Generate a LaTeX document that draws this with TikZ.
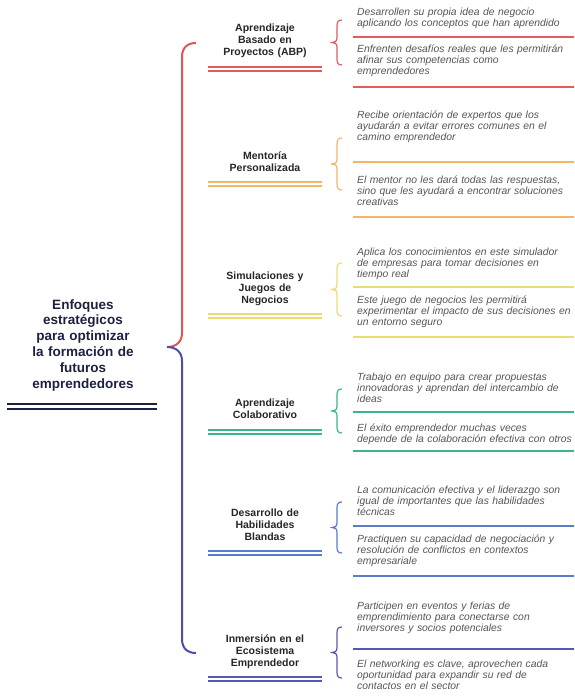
\documentclass[tikz,border=0pt]{standalone}
\usepackage{fontspec}
\setmainfont{Liberation Sans}
\definecolor{cred}{HTML}{E25C5C}
\definecolor{corange}{HTML}{F2B867}
\definecolor{cyellow}{HTML}{E9DC72}
\definecolor{cteal}{HTML}{3DB38F}
\definecolor{cblue}{HTML}{5C7CC9}
\definecolor{cindigo}{HTML}{5858B4}
\definecolor{croot}{HTML}{1C2140}
\definecolor{bigred}{HTML}{E05555}
\definecolor{bigblue}{HTML}{4E4EAA}
\definecolor{leafgray}{HTML}{555555}
\definecolor{branchgray}{HTML}{262626}
\tikzset{
  roottxt/.style={font=\fontsize{13.5}{15.8}\selectfont\bfseries, text=croot, text width=170pt, align=center, inner sep=0pt},
  branchtxt/.style={font=\fontsize{10.5}{12.2}\selectfont\bfseries, text=branchgray, text width=130pt, align=center, inner sep=0pt},
  leaftxt/.style={font=\fontsize{10.35}{11}\selectfont\itshape, text=leafgray, text width=240pt, align=left, inner sep=0pt},
  dbl/.style={line width=1.6pt},
  sbrace/.style={line width=1.2pt},
  bbrace/.style={line width=2pt}
}
% #1 name, #2 colour, #3 baseline, #4 text, #5 underline y, #6 brace top, #7 brace bottom
\newcommand\mybranch[7]{%
  \node[branchtxt, anchor=base] (#1) at (265,#3) {#4};
  \draw[#2, dbl] (208,#5) -- (322,#5) (208,#5+4) -- (322,#5+4);
  \pgfmathsetmacro\bmid{(#6+#7)/2}
  \coordinate (#1brt) at (342,#6);
  \coordinate (#1brb) at (342,#7);
  \coordinate (#1tip) at (332,\bmid);
  \draw[#2, sbrace] (#1brt) .. controls (338,#6) and (337,#6+2) .. (337,#6+6)
     -- (337,\bmid-5) .. controls (337,\bmid-1) and (335,\bmid) .. (#1tip)
     .. controls (335,\bmid) and (337,\bmid+1) .. (337,\bmid+5)
     -- (337,#7-6) .. controls (337,#7-2) and (338,#7) .. (#1brb);
}
% #1 name, #2 colour, #3 baseline, #4 text, #5 underline y
\newcommand\myleaf[5]{%
  \node[leaftxt, anchor=base west] (#1) at (357,#3) {#4};
  \draw[#2, dbl] (353,#5) -- (580,#5);
}
\begin{document}
\begin{tikzpicture}[x=1pt,y=-1pt]
\useasboundingbox (0,0) rectangle (574,696);
\clip (0,0) rectangle (574,696);
\fill[white] (0,0) rectangle (574,696);

% root
\node[roottxt, anchor=base] (root) at (83,309) {Enfoques\\estratégicos\\para optimizar\\la formación de\\futuros\\emprendedores};
\draw[croot, line width=2.2pt] (7,404) -- (157,404) (7,409) -- (157,409);

% big brace
\coordinate (bigtop) at (196,43);
\coordinate (bigtip) at (167,347);
\coordinate (bigbot) at (196,653);
\draw[bigred, bbrace] (bigtop) .. controls (187,43) and (182,48) .. (182,57) -- (182,333)
   .. controls (182,342) and (176,347) .. (bigtip);
\draw[bigblue, bbrace] (bigtip) .. controls (176,347) and (182,352) .. (182,361) -- (182,639)
   .. controls (182,648) and (187,653) .. (bigbot);

% branches
\mybranch{b1}{cred}{31}{Aprendizaje\\Basado en\\Proyectos (ABP)}{67}{20}{65}
\myleaf{l11}{cred}{16}{Desarrollen su propia idea de negocio\\aplicando los conceptos que han aprendido}{37}
\myleaf{l12}{cred}{52}{Enfrenten desafíos reales que les permitirán\\afinar sus competencias como\\emprendedores}{87}

\mybranch{b2}{corange}{159}{Mentoría\\Personalizada}{182}{138}{190}
\myleaf{l21}{corange}{118}{Recibe orientación de expertos que los\\ayudarán a evitar errores comunes en el\\camino emprendedor}{162}
\myleaf{l22}{corange}{183}{El mentor no les dará todas las respuestas,\\sino que les ayudará a encontrar soluciones\\creativas}{217}

\mybranch{b3}{cyellow}{279}{Simulaciones y\\Juegos de\\Negocios}{314}{263}{316}
\myleaf{l31}{cyellow}{255}{Aplica los conocimientos en este simulador\\de empresas para tomar decisiones en\\tiempo real}{287}
\myleaf{l32}{cyellow}{303}{Este juego de negocios les permitirá\\experimentar el impacto de sus decisiones en\\un entorno seguro}{337}

\mybranch{b4}{cteal}{406}{Aprendizaje\\Colaborativo}{430}{389}{433}
\myleaf{l41}{cteal}{380}{Trabajo en equipo para crear propuestas\\innovadoras y aprendan del intercambio de\\ideas}{412}
\myleaf{l42}{cteal}{431}{El éxito emprendedor muchas veces\\depende de la colaboración efectiva con otros}{451}

\mybranch{b5}{cblue}{516}{Desarrollo de\\Habilidades\\Blandas}{551}{502}{553}
\myleaf{l51}{cblue}{493}{La comunicación efectiva y el liderazgo son\\igual de importantes que las habilidades\\técnicas}{526}
\myleaf{l52}{cblue}{542}{Practiquen su capacidad de negociación y\\resolución de conflictos en contextos\\empresariale}{576}

\mybranch{b6}{cindigo}{642}{Inmersión en el\\Ecosistema\\Emprendedor}{677}{627}{678}
\myleaf{l61}{cindigo}{609}{Participen en eventos y ferias de\\emprendimiento para conectarse con\\inversores y socios potenciales}{649}
\myleaf{l62}{cindigo}{667}{El networking es clave, aprovechen cada\\oportunidad para expandir su red de\\contactos en el sector}{702}
\end{tikzpicture}
\end{document}
